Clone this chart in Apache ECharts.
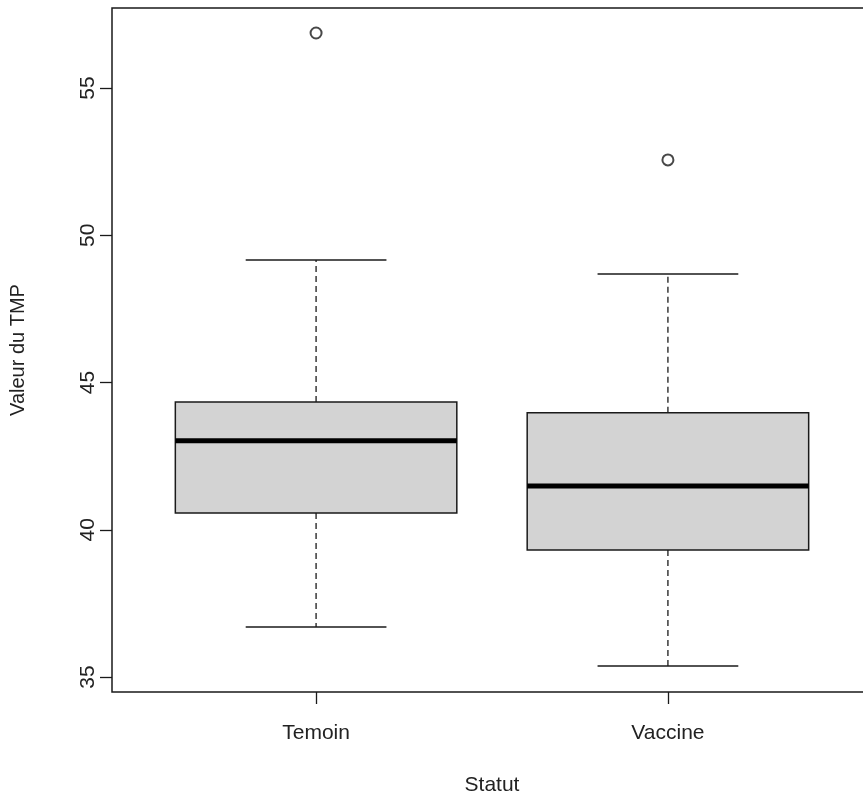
<!DOCTYPE html>
<html>
<head>
<meta charset="utf-8">
<script src="https://cdn.jsdelivr.net/npm/echarts@6/dist/echarts.min.js"></script>
<style>
html,body{margin:0;padding:0;background:#fff;}
#chart{width:863px;height:799px;}
</style>
</head>
<body>
<div id="chart"></div>
<script>
const categories = ['Temoin', 'Vaccine'];
const lowerWhisker = [36.70, 35.37];
const q1 = [40.57, 39.31];
const median = [43.02, 41.49];
const q3 = [44.34, 43.97];
const upperWhisker = [49.16, 48.69];
const outlierGroup = [0, 1];
const outlierValue = [56.87, 52.56];
const yTicks = [35, 40, 45, 50, 55];

const FONT = 'Liberation Sans, Arial, sans-serif';
const boxData = categories.map((c, i) => [i + 1, lowerWhisker[i], q1[i], median[i], q3[i], upperWhisker[i]]);
const outlierData = outlierGroup.map((g, i) => [g + 1, outlierValue[i]]);

const chart = echarts.init(document.getElementById('chart'), null, {renderer: 'canvas'});
chart.setOption({
  animation: false,
  backgroundColor: '#fff',
  grid: {left: 112, right: -9, top: 8, bottom: 107, outerBoundsMode: 'none', containLabel: false,
    show: true, borderColor: '#1a1a1a', borderWidth: 1.5, backgroundColor: 'transparent'},
  xAxis: {
    type: 'value', min: 0.42, max: 2.58,
    name: 'Statut', nameLocation: 'middle', nameGap: 83,
    nameTextStyle: {fontFamily: FONT, fontSize: 21, color: '#222'},
    axisLine: {show: false},
    splitLine: {show: false},
    axisTick: {show: true, length: 12, customValues: [1, 2], lineStyle: {color: '#1a1a1a', width: 1.3}},
    axisLabel: {customValues: [1, 2], margin: 31, fontFamily: FONT, fontSize: 21, color: '#222',
      formatter: v => categories[Math.round(v) - 1]}
  },
  yAxis: {
    type: 'value', min: 34.49, max: 57.72,
    name: 'Valeur du TMP', nameLocation: 'middle', nameGap: 84, nameRotate: 90,
    nameTextStyle: {fontFamily: FONT, fontSize: 20, color: '#222'},
    axisLine: {show: false},
    splitLine: {show: false},
    axisTick: {show: true, length: 12, customValues: yTicks, lineStyle: {color: '#1a1a1a', width: 1.3}},
    axisLabel: {customValues: yTicks, rotate: 90, margin: 13, fontFamily: FONT, fontSize: 21, color: '#222'}
  },
  series: [
    {
      type: 'custom',
      data: boxData,
      encode: {x: 0, y: [1, 2, 3, 4, 5]},
      renderItem: function (params, api) {
        const x = api.value(0);
        const pLo = api.coord([x, api.value(1)]);
        const pQ1 = api.coord([x, api.value(2)]);
        const pMed = api.coord([x, api.value(3)]);
        const pQ3 = api.coord([x, api.value(4)]);
        const pHi = api.coord([x, api.value(5)]);
        const hb = api.size([0.4, 0])[0];
        const hc = api.size([0.2, 0])[0];
        const cx = pMed[0];
        const dash = {stroke: '#1a1a1a', lineWidth: 1.3, lineDash: [6, 4]};
        const solid = {stroke: '#1a1a1a', lineWidth: 1.5};
        return {
          type: 'group',
          children: [
            {type: 'line', shape: {x1: cx, y1: pQ3[1], x2: cx, y2: pHi[1]}, style: dash},
            {type: 'line', shape: {x1: cx, y1: pQ1[1], x2: cx, y2: pLo[1]}, style: dash},
            {type: 'line', shape: {x1: cx - hc, y1: pHi[1], x2: cx + hc, y2: pHi[1]}, style: solid},
            {type: 'line', shape: {x1: cx - hc, y1: pLo[1], x2: cx + hc, y2: pLo[1]}, style: solid},
            {type: 'rect', shape: {x: cx - hb, y: pQ3[1], width: 2 * hb, height: pQ1[1] - pQ3[1]},
              style: {fill: '#d3d3d3', stroke: '#1a1a1a', lineWidth: 1.5}},
            {type: 'line', shape: {x1: cx - hb, y1: pMed[1], x2: cx + hb, y2: pMed[1]},
              style: {stroke: '#000', lineWidth: 5}}
          ]
        };
      }
    },
    {
      type: 'scatter',
      data: outlierData,
      symbol: 'emptyCircle',
      symbolSize: 11,
      itemStyle: {color: '#1a1a1a', borderColor: '#1a1a1a', borderWidth: 1.3}
    }
  ]
});
</script>
</body>
</html>
